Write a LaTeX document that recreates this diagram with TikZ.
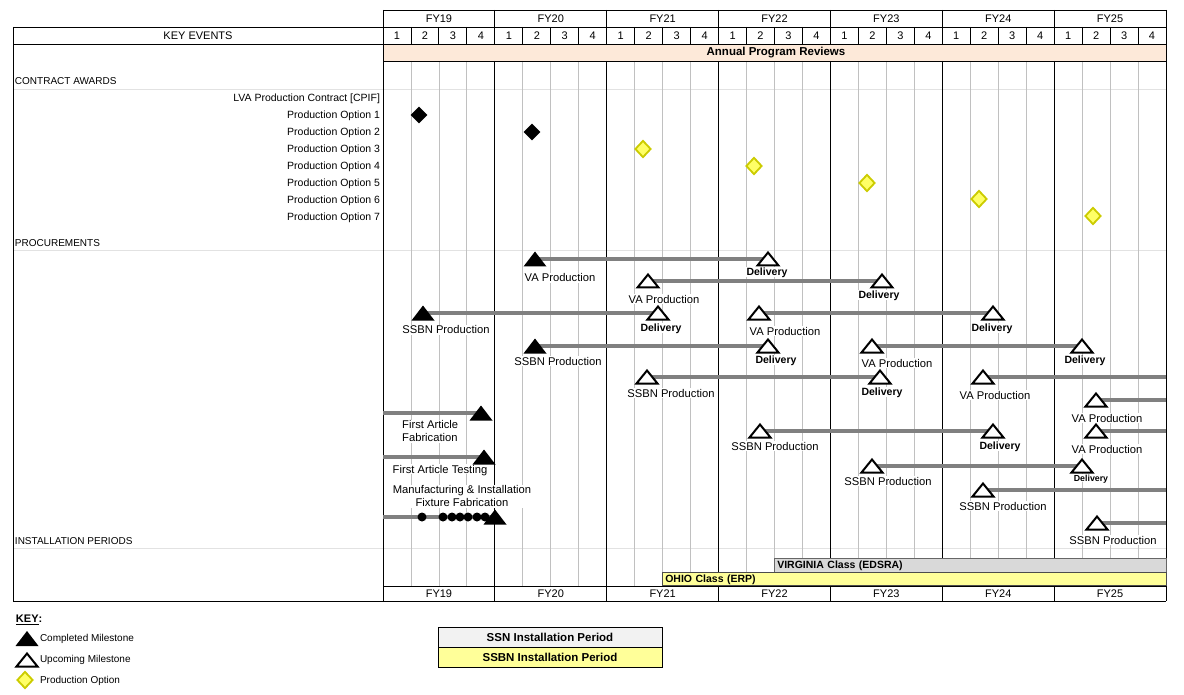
\documentclass[tikz,border=0pt]{standalone}
\usepackage{fontspec}
\setmainfont{Liberation Sans}
\usetikzlibrary{calc,shapes.geometric}
\definecolor{peach}{HTML}{FDE9D9}
\definecolor{gridg}{HTML}{C0C0C0}
\definecolor{sepg}{HTML}{E2E2E2}
\definecolor{conng}{HTML}{808080}
\definecolor{ylwfill}{HTML}{FFFF66}
\definecolor{ylwline}{HTML}{CCCC00}
\definecolor{barg}{HTML}{D9D9D9}
\definecolor{bary}{HTML}{FFFF99}
\definecolor{keyg}{HTML}{F2F2F2}
\newcommand\filltri[1]{\fill[black] ($(#1)+(0,-7.5)$) -- ($(#1)+(11.5,7.5)$) -- ($(#1)+(-11.5,7.5)$) -- cycle;}
\newcommand\opentri[1]{\draw[todo] ($(#1)+(0,-6.5)$) -- ($(#1)+(10.5,6.5)$) -- ($(#1)+(-10.5,6.5)$) -- cycle;}
\begin{document}
\begin{tikzpicture}[x=1pt,y=-1pt,
  every node/.style={inner sep=0.8pt},
  hdr/.style={font={\fontsize{11}{12}\selectfont}},
  sect/.style={font={\fontsize{10}{12}\selectfont}, anchor=west},
  clab/.style={font={\fontsize{10.5}{12}\selectfont}, anchor=east},
  plab/.style={font={\fontsize{11.2}{13}\selectfont}, fill=white, text height=8pt, text depth=0pt, inner sep=1pt},
  mlab/.style={font={\fontsize{11.2}{13}\selectfont}, fill=white, inner sep=1pt},
  dlab/.style={font={\fontsize{10.5}{12}\selectfont\bfseries}, fill=white, text height=7.6pt, text depth=0pt, inner sep=1pt},
  conn/.style={conng, line width=3.3pt},
  todo/.style={draw=black, fill=white, line width=2pt},
  bdia/.style={diamond, fill=black, minimum width=17pt, minimum height=17pt, inner sep=0pt},
  ydia/.style={diamond, draw=ylwline, line width=1.8pt, fill=ylwfill, minimum width=16pt, minimum height=17pt, inner sep=0pt},
  dot/.style={circle, fill=black, minimum size=9pt, inner sep=0pt},
  frame/.style={black, line width=0.9pt},
  keytxt/.style={font={\fontsize{10}{12}\selectfont}, anchor=west},
  bartxt/.style={font={\fontsize{10.5}{12}\selectfont\bfseries}, anchor=north west, align=left, inner xsep=3pt, inner ysep=0pt, minimum height=13.5pt, text depth=0pt}
]
\useasboundingbox (0,0) rectangle (1184,695);
\fill[white] (0,0) rectangle (1184,695);

% header fills
\fill[peach] (383,44) rectangle (1166,61);

% light separators
\foreach \yy in {89,250,548} \draw[sepg, line width=0.9pt] (13,\yy) -- (1166,\yy);

% grid verticals
\foreach \i in {1,...,27} {
  \pgfmathsetmacro\xx{383+27.9643*\i}
  \pgfmathtruncatemacro\mm{mod(\i,4)}
  \ifnum\mm=0
    \draw[frame] (\xx,10) -- (\xx,44);
    \draw[frame] (\xx,61) -- (\xx,601);
  \else
    \draw[gridg, line width=0.8pt] (\xx,61) -- (\xx,586);
    \draw[frame] (\xx,27) -- (\xx,44);
  \fi
}
% frame
\draw[frame] (383,10) -- (1166,10);
\draw[frame] (13,27) -- (1166,27);
\draw[frame] (13,44) -- (1166,44);
\draw[frame] (383,61) -- (1166,61);
\draw[frame] (383,586) -- (1166,586);
\draw[frame] (13,601) -- (1166,601);
\draw[frame] (13,27) -- (13,601);
\draw[frame] (383,10) -- (383,601);
\draw[frame] (1166,10) -- (1166,601);

% header texts
\foreach \k/\lab in {0/FY19,1/FY20,2/FY21,3/FY22,4/FY23,5/FY24,6/FY25} {
  \pgfmathsetmacro\xx{383+111.857*(\k+0.5)}
  \node[hdr] (fy\k) at (\xx,19) {\lab};
  \node[hdr] (fyb\k) at (\xx,594) {\lab};
}
\foreach \i in {0,...,27} {
  \pgfmathsetmacro\xx{383+27.9643*(\i+0.5)}
  \pgfmathtruncatemacro\qq{mod(\i,4)+1}
  \node[hdr] (q\i) at (\xx,36) {\qq};
}
\node[hdr] (keyev) at (198,36) {KEY EVENTS};
\node[font={\fontsize{11.5}{12}\selectfont\bfseries}] (apr) at (776,53) {Annual Program Reviews};

% section headers
\node[sect] (sca) at (14,81) {CONTRACT AWARDS};
\node[sect] (spr) at (14,243) {PROCUREMENTS};
\node[sect] (sip) at (14,541) {INSTALLATION PERIODS};

% contract labels
\node[clab] (c0) at (381,99) {LVA Production Contract [CPIF]};
\foreach \n/\yy in {1/116,2/133,3/150,4/167,5/184,6/201,7/218}
  \node[clab] (c\n) at (381,\yy) {Production Option \n};

% diamonds
\node[bdia] (d1) at (419,115) {};
\node[bdia] (d2) at (532,132) {};
\node[ydia] (d3) at (643,149) {};
\node[ydia] (d4) at (754,166) {};
\node[ydia] (d5) at (867,183) {};
\node[ydia] (d6) at (979,199) {};
\node[ydia] (d7) at (1093,216) {};

% installation bars
\node[bartxt, fill=barg, draw=black!60, line width=0.6pt, text width=386pt] (vabar) at (774,558) {VIRGINIA Class (EDSRA)};
\node[bartxt, fill=bary, draw=black!70, line width=0.6pt, text width=498pt] (ohbar) at (662,571.5) {OHIO Class (ERP)};

% procurement labels
\node[plab] (lv1) at (560,278) {VA Production};
\node[plab] (lv2) at (664,299) {VA Production};
\node[plab] (lv3) at (785,331) {VA Production};
\node[plab] (lv4) at (897,363) {VA Production};
\node[plab] (lv5) at (995,395) {VA Production};
\node[plab] (lv6) at (1107,418) {VA Production};
\node[plab] (lv7) at (1107,449) {VA Production};
\node[plab] (ls1) at (446,330) {SSBN Production};
\node[plab] (ls2) at (558,361) {SSBN Production};
\node[plab] (ls3) at (671,393) {SSBN Production};
\node[plab] (ls4) at (775,446) {SSBN Production};
\node[plab] (ls5) at (888,481) {SSBN Production};
\node[plab] (ls6) at (1003,506) {SSBN Production};
\node[plab] (ls7) at (1113,540) {SSBN Production};
\node[dlab] (ld1) at (767,272) {Delivery};
\node[dlab] (ld2) at (879,295) {Delivery};
\node[dlab] (ld3) at (661,328) {Delivery};
\node[dlab] (ld4) at (992,328) {Delivery};
\node[dlab] (ld5) at (776,360) {Delivery};
\node[dlab] (ld6) at (1085,360) {Delivery};
\node[dlab] (ld7) at (882,392) {Delivery};
\node[dlab] (ld8) at (1000,446) {Delivery};
\node[dlab, font={\fontsize{8.8}{10}\selectfont\bfseries}, text height=6.4pt] (ld9) at (1091,478) {Delivery};
\node[mlab, anchor=north west, align=left] (lfaf) at (401,419.5) {First Article\\Fabrication};
\node[plab] (lfat) at (440,469) {First Article Testing};
\node[mlab, anchor=north, align=center] (lmif) at (462,484.5) {Manufacturing \& Installation\\Fixture Fabrication};

% milestone coordinates
\coordinate (a1) at (535,259);  \coordinate (b1) at (768,259);
\coordinate (a2) at (648,281);  \coordinate (b2) at (882,281);
\coordinate (a3) at (423,313);  \coordinate (b3) at (658,313);
\coordinate (a4) at (759,313);  \coordinate (b4) at (993,313);
\coordinate (a5) at (535,346);  \coordinate (b5) at (768,346);
\coordinate (a6) at (872,346);  \coordinate (b6) at (1082,346);
\coordinate (a7) at (647,377);  \coordinate (b7) at (880,377);
\coordinate (a8) at (983,377);  \coordinate (e8) at (1166,377);
\coordinate (a9) at (1096,400); \coordinate (e9) at (1166,400);
\coordinate (s10) at (383,413); \coordinate (m10) at (481,413);
\coordinate (a11) at (760,431); \coordinate (b11) at (993,431);
\coordinate (a12) at (1096,431); \coordinate (e12) at (1166,431);
\coordinate (s13) at (383,457); \coordinate (m13) at (484,457);
\coordinate (a14) at (872,466); \coordinate (b14) at (1082,466);
\coordinate (a15) at (983,490); \coordinate (e15) at (1166,490);
\coordinate (s16) at (383,517); \coordinate (m16) at (495,517);
\coordinate (a17) at (1097,523); \coordinate (e17) at (1166,523);

% connectors
\draw[conn] (a1) -- (b1);
\draw[conn] (a2) -- (b2);
\draw[conn] (a3) -- (b3);
\draw[conn] (a4) -- (b4);
\draw[conn] (a5) -- (b5);
\draw[conn] (a6) -- (b6);
\draw[conn] (a7) -- (b7);
\draw[conn] (a8) -- (e8);
\draw[conn] (a9) -- (e9);
\draw[conn] (s10) -- (m10);
\draw[conn] (a11) -- (b11);
\draw[conn] (a12) -- (e12);
\draw[conn] (s13) -- (m13);
\draw[conn] (a14) -- (b14);
\draw[conn] (a15) -- (e15);
\draw[conn] (s16) -- (m16);
\draw[conn] (a17) -- (e17);

% triangles
\filltri{a1} \opentri{b1}
\opentri{a2} \opentri{b2}
\filltri{a3} \opentri{b3}
\opentri{a4} \opentri{b4}
\filltri{a5} \opentri{b5}
\opentri{a6} \opentri{b6}
\opentri{a7} \opentri{b7}
\opentri{a8}
\opentri{a9}
\filltri{m10}
\opentri{a11} \opentri{b11}
\opentri{a12}
\filltri{m13}
\opentri{a14} \opentri{b14}
\opentri{a15}
\opentri{a17}
% dots on manufacturing line
\foreach \n/\xx in {1/422,2/443,3/452,4/460,5/468,6/477,7/485}
  \node[dot] (dt\n) at (\xx,517) {};
\filltri{m16}

% key
\node[font={\fontsize{11}{12}\selectfont\bfseries}, anchor=west] (keyh) at (15,620) {\underline{KEY}:};
\coordinate (k1) at (27,638.5);
\coordinate (k2) at (27,660);
\filltri{k1}
\opentri{k2}
\node[ydia] (k3) at (25,680) {};
\node[keytxt] (kt1) at (39,639) {Completed Milestone};
\node[keytxt] (kt2) at (39,660) {Upcoming Milestone};
\node[keytxt] (kt3) at (39,681) {Production Option};

\node[draw=black, line width=0.8pt, fill=keyg, minimum width=224pt, minimum height=20pt, font={\fontsize{11.5}{12}\selectfont\bfseries}] (ssn) at (550,637) {SSN Installation Period};
\node[draw=black, line width=0.8pt, fill=bary, minimum width=224pt, minimum height=20pt, font={\fontsize{11.5}{12}\selectfont\bfseries}] (ssbn) at (550,657) {SSBN Installation Period};
\end{tikzpicture}
\end{document}
